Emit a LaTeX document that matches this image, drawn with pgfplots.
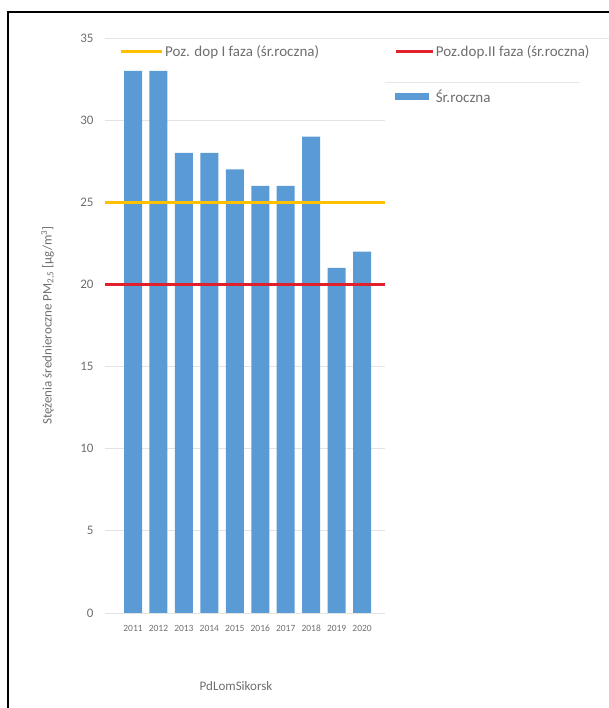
\documentclass[border=0pt]{standalone}
\usepackage{pgfplots}
\pgfplotsset{compat=1.18}
\usepackage{fontspec}
\setmainfont{Carlito}

\definecolor{barblue}{HTML}{5B9BD5}
\definecolor{limyellow}{HTML}{FFC000}
\definecolor{limred}{HTML}{E0202B}
\definecolor{txtgray}{HTML}{6E6E6E}

\begin{document}
\begin{tikzpicture}
\path[use as bounding box] (0pt,0pt) rectangle (609pt,708pt);
% frame of the screenshot
\draw[line width=1.5pt] (8pt,0pt) -- (8pt,696pt) -- (609pt,696pt);
% faint borders of the legend boxes
\draw[gray!18, line width=0.8pt] (385pt,670pt) -- (609pt,670pt);
\draw[gray!18, line width=0.8pt] (385pt,626pt) -- (580pt,626pt);

\begin{axis}[
  at={(105pt,95pt)}, anchor=south west,
  scale only axis, width=280pt, height=575pt,
  xmin=-1.1, xmax=9.9, ymin=0, ymax=35,
  ytick={0,5,...,35},
  xtick={0,...,9},
  xticklabels={2011,2012,2013,2014,2015,2016,2017,2018,2019,2020},
  axis line style={draw=none},
  major tick length=0pt,
  ymajorgrids, grid style={gray!22, line width=0.8pt},
  /pgf/number format/assume math mode=true,
  yticklabel style={font=\fontsize{13}{15}\selectfont, text=txtgray, xshift=-8pt},
  xticklabel style={font=\fontsize{9.5}{11}\selectfont, text=txtgray, yshift=-8pt,
    text height=7pt, text depth=0pt},
  xlabel={PdLomSikorsk},
  xlabel style={at={(axis description cs:0.468,-0.127)}, anchor=center,
    font=\fontsize{13}{15}\selectfont, text=txtgray},
  ylabel={Stężenia średnieroczne PM\textsubscript{2,5} [µg/m\textsuperscript{3}]},
  ylabel style={at={(axis description cs:-0.204,0.5)}, anchor=center,
    font=\fontsize{13}{15}\selectfont, text=txtgray},
  legend columns=2,
  legend cell align=left,
  legend style={at={(axis description cs:0.04,0.995)}, anchor=north west,
    draw=none, fill=none, font=\fontsize{15}{18}\selectfont, text=txtgray,
    row sep=28pt,
    /tikz/every even column/.append style={column sep=73pt}},
]
\addplot[ybar, bar width=18pt, fill=barblue, draw=none, forget plot]
  coordinates {(0,33) (1,33) (2,28) (3,28) (4,27) (5,26) (6,26) (7,29) (8,21) (9,22)};
\addplot[limyellow, line width=2.7pt, forget plot] coordinates {(-1.1,25) (9.9,25)};
\addplot[limred, line width=2.7pt, forget plot] coordinates {(-1.1,20) (9.9,20)};

\addlegendimage{legend image code/.code={\draw[limyellow,line width=2.7pt] (0pt,0pt) -- (41pt,0pt);}}
\addlegendentry{Poz. dop I faza (śr.roczna)}
\addlegendimage{legend image code/.code={\draw[limred,line width=2.7pt] (0pt,0pt) -- (37pt,0pt);}}
\addlegendentry{Poz.dop.II faza (śr.roczna)}
\addlegendimage{empty legend}
\addlegendentry{}
\addlegendimage{legend image code/.code={\fill[barblue] (0pt,-3pt) rectangle (33pt,3pt);}}
\addlegendentry{Śr.roczna}
\end{axis}
\end{tikzpicture}
\end{document}
